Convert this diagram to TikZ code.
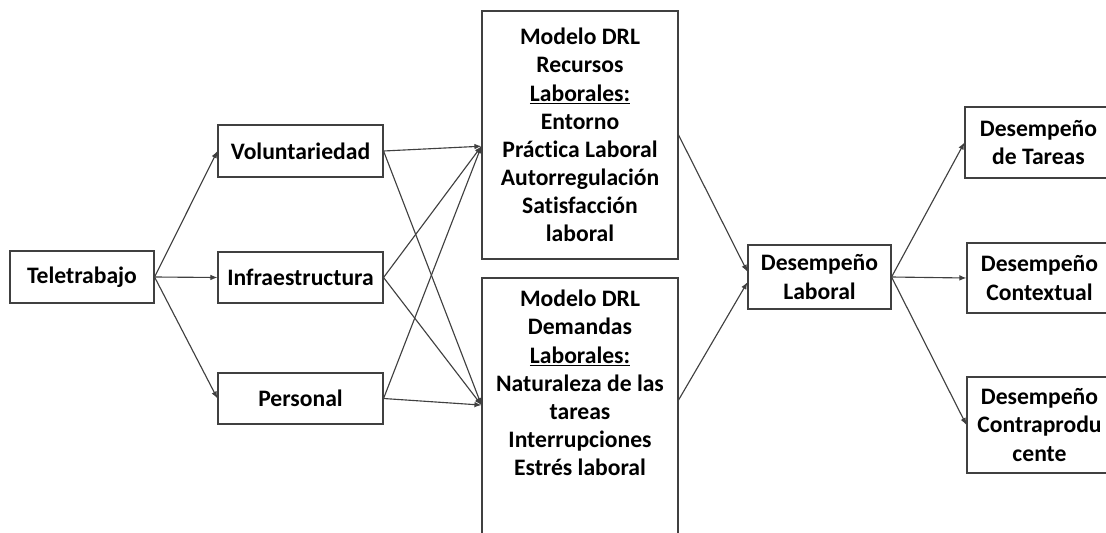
\documentclass[tikz,border=0pt]{standalone}
\usepackage{fontspec}
\setmainfont{Carlito}[Ligatures=NoCommon]
\usetikzlibrary{arrows.meta,calc}
\newdimen\pxu
\pxu=0.025cm
\begin{document}
\begin{tikzpicture}[x=0.025cm,y=-0.025cm,
  box/.style={draw=black!75,line width=0.8pt,align=center,inner sep=0pt,
    font=\bfseries\fontsize{16.8}{20}\selectfont},
  plain/.style={align=center,inner sep=0pt,font=\bfseries\fontsize{16.8}{20}\selectfont},
  link/.style={draw=black!75,line width=0.8pt,-{Latex[length=5pt,width=4pt]}}]
\useasboundingbox (0,0) rectangle (1106,533);
\clip (0,0) rectangle (1106,533);
\fill[white] (0,0) rectangle (1106,533);

% first column
\node[box,minimum width=144\pxu,minimum height=52\pxu] (tele) at (82,277) {Teletrabajo};

% second column
\node[box,minimum width=165\pxu,minimum height=52\pxu] (vol) at (300.5,151) {Voluntariedad};
\node[box,minimum width=165\pxu,minimum height=51\pxu] (inf) at (300.5,277.5) {Infraestructura};
\node[box,minimum width=165\pxu,minimum height=51\pxu] (per) at (300.5,398.5) {Personal};

% DRL model boxes
\node[box,minimum width=196\pxu,minimum height=248\pxu] (rec) at (580,135)
  {Modelo DRL\\Recursos\\\underline{Laborales:}\\Entorno\\Práctica Laboral\\Autorregulación\\Satisfacción\\laboral};
\node[box,minimum width=196\pxu,minimum height=267\pxu] (dem) at (580,411.5) {};
\node[plain,anchor=north] (demtxt) at (580,290)
  {Modelo DRL\\Demandas\\\underline{Laborales:}\\Naturaleza de las\\tareas\\Interrupciones\\Estrés laboral};

% job performance
\node[box,minimum width=143\pxu,minimum height=64\pxu] (lab) at (819.5,277) {Desempeño\\Laboral};

% performance dimensions
\node[box,minimum width=147\pxu,minimum height=71\pxu] (tar) at (1038.5,142.5) {Desempeño\\de Tareas};
\node[box,minimum width=145\pxu,minimum height=70\pxu] (ctx) at (1039.5,278) {Desempeño\\Contextual};
\node[box,minimum width=145\pxu,minimum height=96\pxu] (cnt) at (1039.5,425) {Desempeño\\Contraprodu\\cente};

% connector end points on box borders
\coordinate (recin) at ($(rec.north west)!0.545!(rec.south west)$);
\coordinate (demin) at ($(dem.north west)!0.476!(dem.south west)$);
\coordinate (demout) at ($(dem.north east)!0.457!(dem.south east)$);
\coordinate (labinA) at ($(lab.north west)!0.42!(lab.south west)$);
\coordinate (labinB) at ($(lab.north west)!0.58!(lab.south west)$);

% connectors
\draw[link] (tele.east) -- (vol.west);
\draw[link] (tele.east) -- (inf.west);
\draw[link] (tele.east) -- (per.west);

\draw[link] (vol.east) -- (recin);
\draw[link] (inf.east) -- (recin);
\draw[link] (per.east) -- (recin);
\draw[link] (vol.east) -- (demin);
\draw[link] (inf.east) -- (demin);
\draw[link] (per.east) -- (demin);

\draw[link] (rec.east) -- (labinA);
\draw[link] (demout) -- (labinB);

\draw[link] (lab.east) -- (tar.west);
\draw[link] (lab.east) -- (ctx.west);
\draw[link] (lab.east) -- (cnt.west);
\end{tikzpicture}
\end{document}
